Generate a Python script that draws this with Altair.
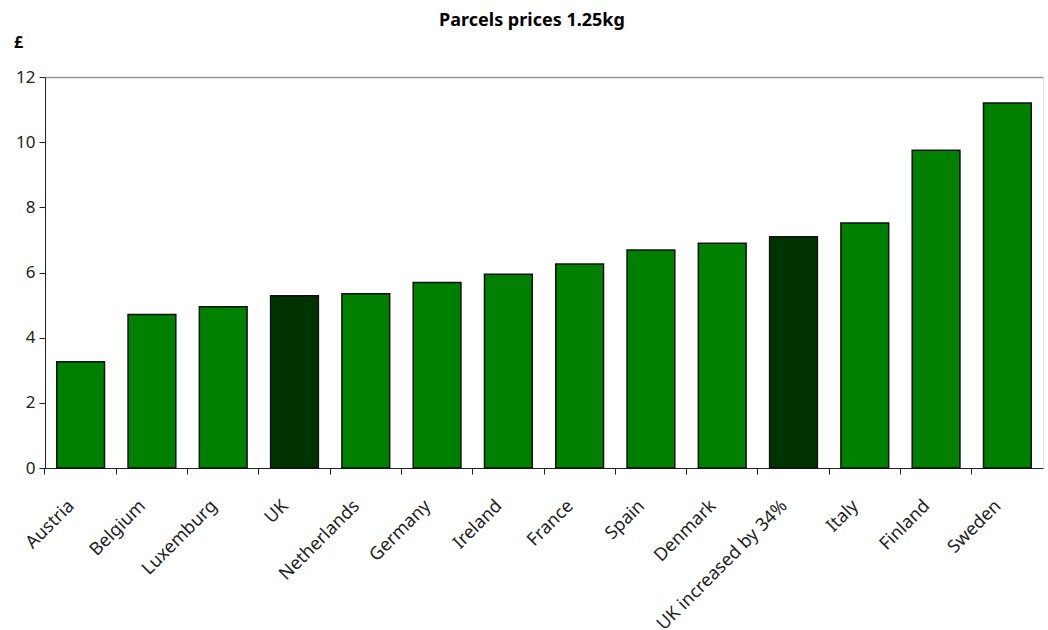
import altair as alt
import pandas as pd

countries = ["Austria", "Belgium", "Luxemburg", "UK", "Netherlands", "Germany", "Ireland",
             "France", "Spain", "Denmark", "UK increased by 34%", "Italy", "Finland", "Sweden"]
prices = [3.26, 4.71, 4.95, 5.29, 5.35, 5.69, 5.95, 6.26, 6.69, 6.90, 7.10, 7.52, 9.75, 11.20]
groups = ["Other", "Other", "Other", "UK", "Other", "Other", "Other",
          "Other", "Other", "Other", "UK", "Other", "Other", "Other"]
y_ticks = [0, 2, 4, 6, 8, 10, 12]

df = pd.DataFrame({"country": countries, "price": prices, "group": groups})

FONT = "Noto Sans"

chart = alt.Chart(df).mark_bar(
    width=alt.RelativeBandSize(0.67), stroke="#111111", strokeWidth=1.5
).encode(
    x=alt.X("country:N", sort=countries,
            scale=alt.Scale(paddingInner=0, paddingOuter=0),
            axis=alt.Axis(title=None, labelAngle=-45, bandPosition=0, labelOffset=-9,
                          labelPadding=29, tickSize=6, tickColor="#222", domainColor="#222",
                          labelFontSize=18, labelColor="#222", labelFont=FONT,
                          labelAlign="right", labelBaseline="middle")),
    y=alt.Y("price:Q", scale=alt.Scale(domain=[0, 12], nice=False),
            axis=alt.Axis(title="£", titleAngle=0, titleX=-27, titleY=-35,
                          titleAlign="center", titleBaseline="middle", titleFontSize=16,
                          titleFontWeight="bold", titleFont=FONT, titleColor="#000",
                          values=y_ticks, labelFontSize=17, labelColor="#222", labelFont=FONT,
                          tickSize=6, tickColor="#222", domainColor="#222", labelPadding=4,
                          grid=True,
                          gridColor={"condition": {"test": "datum.value === 12", "value": "#999999"},
                                     "value": "transparent"},
                          gridWidth=1.5)),
    color=alt.Color("group:N", scale=alt.Scale(domain=["Other", "UK"], range=["#008000", "#003300"]),
                    legend=None),
).properties(
    width=998, height=391,
    title=alt.TitleParams("Parcels prices 1.25kg", font=FONT, fontSize=18, fontWeight="bold",
                          color="#000", anchor="middle", dx=-12, frame="group"),
    autosize=alt.AutoSizeParams(type="none"),
    padding={"left": 45, "top": 77, "right": 5, "bottom": 162},
).configure_view(stroke=None).configure(background="white")

chart.save("out.html", embed_options={"renderer": "svg", "actions": False})
